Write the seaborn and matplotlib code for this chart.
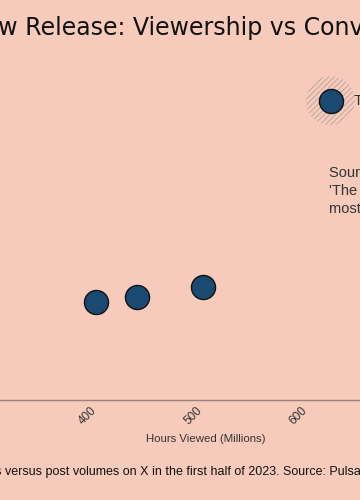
import numpy as np
import pandas as pd
import seaborn as sns
import matplotlib.pyplot as plt

# data
hours_viewed = [408, 447, 510, 631]          # millions of hours
post_volume = [72, 76, 83, 220]              # posts on X (thousands, estimated)
titles = ['Ginny & Georgia S2', 'You S4', 'Wednesday', 'The Night Agent']
x_ticks = [400, 500, 600]

bg = '#f6cbbb'
txt = '#333333'
sns.set_theme(style='white')
plt.rcParams['font.family'] = ['Liberation Sans', 'DejaVu Sans']
plt.rcParams['hatch.color'] = '#b8a29c'
plt.rcParams['hatch.linewidth'] = 0.6

df = pd.DataFrame({'hours': hours_viewed, 'posts': post_volume, 'title': titles})

fig = plt.figure(figsize=(3.6, 5), dpi=100, facecolor=bg)
# the axes runs past both edges of the canvas, like the cropped original
ax = fig.add_axes([-0.1, 0.2, 484 / 360, 0.68])
ax.set_facecolor(bg)

# halo around the outlier
top = df.loc[df.posts.idxmax()]
ax.scatter([top.hours], [top.posts], s=1250, facecolor='none', edgecolor='#b8a29c',
           linewidth=0, hatch='//////', zorder=1)

sns.scatterplot(data=df, x='hours', y='posts', ax=ax, s=300, color='#1a4a72',
                edgecolor='#111111', linewidth=1, zorder=3, legend=False)

ax.text(top.hours + 22, top.posts, top.title, fontsize=10.5, color=txt,
        va='center', ha='left')
ax.text(top.hours - 1, 172, "Source of buzz:\n'The Night Agent' was the\nmost-discussed release",
        fontsize=10.5, color=txt, va='top', ha='left', linespacing=1.35)

ax.set_xlim(281.9, 742.9)
ax.set_ylim(0, 250)
ax.set_xticks(x_ticks)
ax.set_xticklabels([str(t) for t in x_ticks], rotation=45, fontsize=8.5, color=txt)
ax.set_yticks([])
ax.tick_params(axis='x', length=0, pad=3)
ax.set_xlabel('Hours Viewed (Millions)', fontsize=8.2, color=txt, labelpad=5)
ax.set_ylabel('')
for s in ['top', 'right', 'left']:
    ax.spines[s].set_visible(False)
ax.spines['bottom'].set_color('#9c827b')
ax.spines['bottom'].set_linewidth(1)

fig.text(-0.095, 0.945, 'New Release: Viewership vs Conversation', fontsize=17,
         family='DejaVu Sans', color='#111111', ha='left', va='center')
fig.text(365 / 360, 0.055, 'Hours viewed of new Netflix releases versus post volumes on X in the '
         'first half of 2023. Source: Pulsar', fontsize=9, color='#111111', ha='right', va='center')

fig.savefig('out.png', dpi=100, facecolor=bg)
